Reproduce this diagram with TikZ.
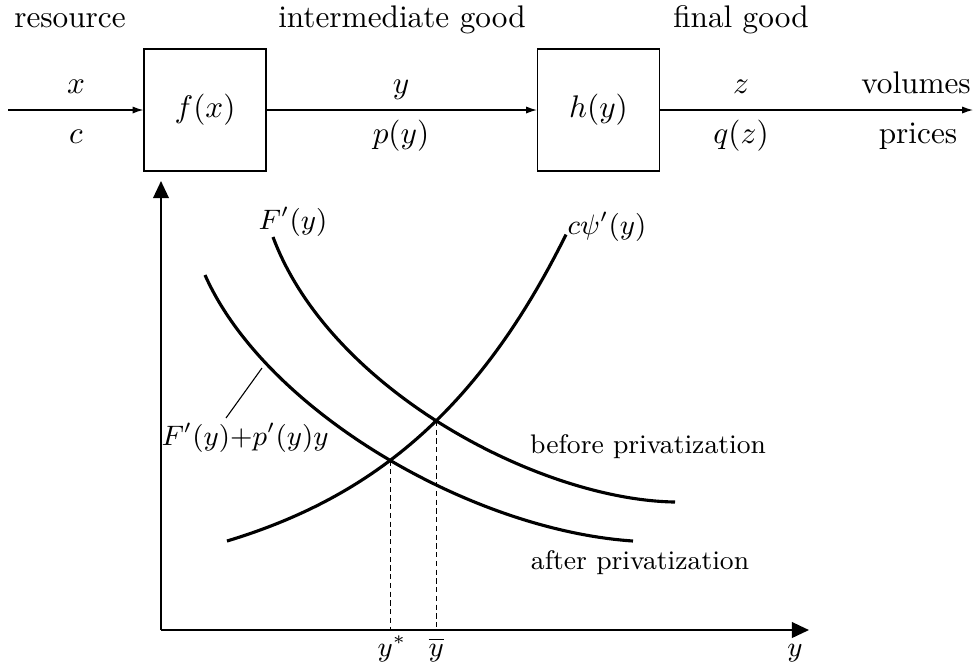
\documentclass[tikz,border=0pt]{standalone}
\usetikzlibrary{arrows.meta,intersections}

\begin{document}
\begin{tikzpicture}[x=0.32pt, y=-0.32pt,
  box/.style={draw, line width=0.4pt, minimum size=39pt, inner sep=0pt},
  flow/.style={-{Latex[length=3.5pt,width=2.3pt]}, line width=0.4pt},
  axis/.style={-{Triangle[length=5.5pt,width=5pt]}, line width=0.7pt},
  curve/.style={line width=1pt},
  guide/.style={line width=0.35pt, dash pattern=on 1.7pt off 1.1pt},
  lbl/.style={anchor=base, inner sep=0pt},
  plbl/.style={inner sep=0pt, font=\fontsize{8.6}{10}\selectfont},
]
\useasboundingbox (0,0) rectangle (974,668);

% Production chain
\node[lbl] (res)   at (70,27)  {resource};
\node[lbl] (inter) at (402,27) {intermediate good};
\node[lbl] (fin)   at (741,27) {final good};

\coordinate (in) at (8,110);
\node[box] (f) at (205,110)   {$f(x)$};
\node[box] (h) at (598.5,110) {$h(y)$};
\coordinate (out) at (973,110);

\draw[flow] (in) -- (f);
\draw[flow] (f) -- (h);
\draw[flow] (h) -- (out);

% Volumes above, prices below
\node[lbl] (vx) at (76,93)   {$x$};
\node[lbl] (px) at (76,143)  {$c$};
\node[lbl] (vy) at (401,93)  {$y$};
\node[lbl] (py) at (401,143) {$p(y)$};
\node[lbl] (vz) at (741,93)  {$z$};
\node[lbl] (pz) at (741,143) {$q(z)$};
\node[lbl] (vol) at (916,93) {volumes};
\node[lbl] (pri) at (918,143) {prices};

% Axes
\coordinate (O) at (161,630);
\coordinate (ytop) at (161,181);
\coordinate (xend) at (809,630);
\draw[axis] (O) -- (ytop);
\draw[axis] (O) -- (xend);

% Curves
\draw[curve, name path=fprime] (273,237) .. controls (330,390) and (540,500) .. (675,502);
\draw[curve, name path=after] (205,275) .. controls (265,410) and (470,530) .. (633,541);
\draw[curve, name path=psi, domain=227:566, samples=60]
  plot (\x, {541-54*(exp(0.0056*(\x-227))-1)});

% Equilibria
\path[name intersections={of=after and psi, by=ystar}];
\path[name intersections={of=fprime and psi, by=ybar}];
\draw[guide] (ystar) -- (ystar |- O);
\draw[guide] (ybar) -- (ybar |- O);

\node[lbl, plbl] (lystar) at ([xshift=0.6pt]ystar |- 0,656) {$y^*$};
\node[lbl, plbl] (lybar)  at (ybar |- 0,656) {$\overline{y}$};
\node[lbl, plbl] (ly)     at (795,656) {$y$};

% Curve labels
\node[plbl] (lF)   at (293,222) {$F'(y)$};
\node[plbl] (lpsi) at (607,227) {$c\psi'(y)$};
\node[plbl] (lFp)  at (245,438) {$F'(y){+}p'(y)y$};
\coordinate (ptr) at (262,368);
\coordinate (ptrend) at (226,418);
\draw[line width=0.35pt] (ptr) -- (ptrend);

\node[plbl] (before) at (648,447) {before privatization};
\node[plbl] (after)  at (640,563) {after privatization};

\end{tikzpicture}
\end{document}
